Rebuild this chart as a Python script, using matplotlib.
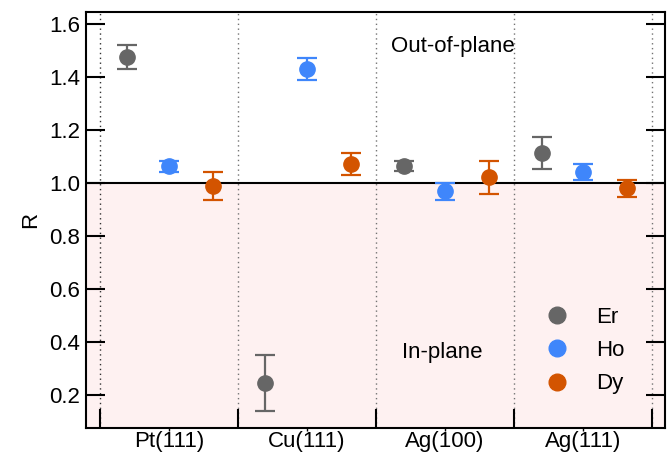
import matplotlib.pyplot as plt
from matplotlib.lines import Line2D

plt.rcParams['font.family'] = ['Liberation Sans', 'DejaVu Sans']

# Data
surfaces = ['Pt(111)', 'Cu(111)', 'Ag(100)', 'Ag(111)']
elements = ['Er', 'Ho', 'Dy']
colors = ['#666666', '#3f86fb', '#d35400']
offsets = [0.2, 0.5, 0.82]

R_er = [1.475, 0.245, 1.064, 1.113]
err_er = [0.045, 0.105, 0.02, 0.062]
R_ho = [1.062, 1.430, 0.968, 1.042]
err_ho = [0.02, 0.042, 0.032, 0.03]
R_dy = [0.989, 1.072, 1.021, 0.979]
err_dy = [0.053, 0.042, 0.062, 0.032]

values = [R_er, R_ho, R_dy]
errors = [err_er, err_ho, err_dy]

fs = 16

fig = plt.figure(figsize=(6.71, 4.55), dpi=100)
ax = fig.add_axes([86 / 671, 1 - 428 / 455, 579 / 671, 416 / 455])

ymin, ymax = 0.075, 1.645
xmin, xmax = -0.1, 4.094

# In-plane shaded region and the R = 1 line
ax.axhspan(ymin, 1.0, color='#fef1f1', lw=0, zorder=0)
ax.axhline(1.0, color='black', lw=1.5, zorder=1)

# Group separators
for i in range(5):
    ax.axvline(i, color='0.2' if i == 0 else '0.45', ls=(0, (1, 2.5)), lw=1, zorder=1)

handles = []
for el, c, off, v, e in zip(elements, colors, offsets, values, errors):
    xs = [i + off for i in range(len(surfaces))]
    ax.errorbar(xs, v, yerr=e, fmt='o', color=c, ms=11, elinewidth=1.6,
                capsize=7, capthick=1.6, zorder=3)
    handles.append(Line2D([], [], ls='none', marker='o', ms=12, color=c, label=el))

ax.text(2.11, 1.515, 'Out-of-plane', fontsize=fs, va='center')
ax.text(2.19, 0.36, 'In-plane', fontsize=fs, va='center')

ax.set_xlim(xmin, xmax)
ax.set_ylim(ymin, ymax)
ax.set_ylabel('R', fontsize=fs, labelpad=6)

ax.set_yticks([0.2, 0.4, 0.6, 0.8, 1.0, 1.2, 1.4, 1.6])
ax.set_yticklabels(['0.2', '0.4', '0.6', '0.8', '1.0', '1.2', '1.4', '1.6'])
ax.tick_params(axis='y', direction='in', length=14, width=1.5, labelsize=fs,
               right=True, pad=4)

ax.set_xticks([0, 1, 2, 3, 4])
ax.set_xticklabels([])
ax.set_xticks([i + 0.5 for i in range(4)], minor=True)
ax.set_xticklabels(surfaces, minor=True)
ax.tick_params(axis='x', which='major', direction='in', length=14, width=1.5)
ax.tick_params(axis='x', which='minor', direction='out', length=2, width=1,
               labelsize=fs, pad=0.5)

for s in ax.spines.values():
    s.set_linewidth(1.5)

ax.legend(handles=handles, loc='upper left', frameon=False, fontsize=fs,
          handletextpad=0.75, labelspacing=0.55, borderaxespad=0,
          bbox_to_anchor=(0.76, 0.3125))

plt.savefig('out.png')
